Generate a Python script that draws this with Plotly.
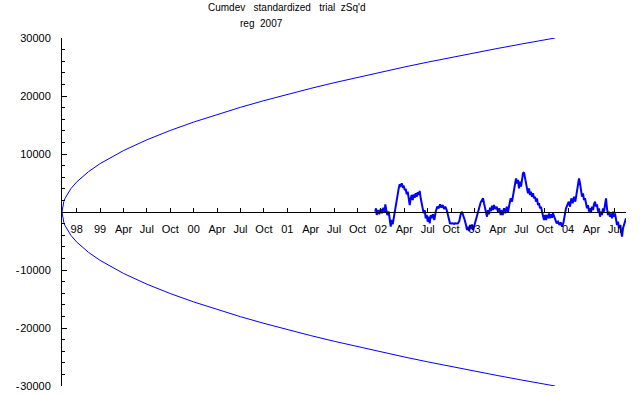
import plotly.graph_objects as go

# x unit: quarter index (0 = first labelled tick "98")
TICK_POS = list(range(24))
TICK_LABELS = ["98", "99", "Apr", "Jul", "Oct", "00", "Apr", "Jul", "Oct",
               "01", "Apr", "Jul", "Oct", "02", "Apr", "Jul", "Oct", "03",
               "Apr", "Jul", "Oct", "04", "Apr", "Jul"]

Y_TICKS = [-30000, -20000, -10000, 0, 10000, 20000, 30000]
Y_TICK_LABELS = ["-\u200a30000", "-\u200a20000", "-\u200a10000", "", "10000", "20000", "30000"]

# envelope (upper half)
ENV_T = [-0.628, -0.6, -0.55, -0.5, -0.4, -0.25, 0, 0.5, 1, 2, 3, 4, 5, 6, 7, 8,
         9, 10, 11, 12, 13, 14, 15, 16, 17, 18, 19, 20, 20.44]
ENV_UP = [0, 1094, 1825, 2338, 3120, 4018, 5179, 6941, 8339, 10595, 12449, 14060,
          15505, 16826, 18051, 19198, 20280, 21307, 22287, 23225, 24127, 24997,
          25837, 26651, 27440, 28208, 28956, 29683, 30000]
ENV_DOWN = [-v for v in ENV_UP]

# cumulative deviation series
DEV_T = [12.761, 12.791, 12.821, 12.876, 12.932, 12.992, 13.047, 13.103, 13.163, 13.188,
         13.231, 13.274, 13.334, 13.389, 13.419, 13.461, 13.504, 13.547, 13.590, 13.632,
         13.675, 13.718, 13.761, 13.803, 13.846, 13.889, 13.932, 13.974, 14.017, 14.060,
         14.103, 14.145, 14.188, 14.231, 14.274, 14.316, 14.359, 14.402, 14.445, 14.487,
         14.530, 14.573, 14.615, 14.658, 14.701, 14.744, 14.786, 14.829, 14.872, 14.915,
         14.957, 15.000, 15.043, 15.085, 15.128, 15.171, 15.226, 15.282,
         15.342, 15.410, 15.470, 15.526, 15.581, 15.641, 15.697, 15.752, 15.812, 15.868,
         15.910, 15.953, 16.009, 16.069, 16.124, 16.180, 16.239, 16.295, 16.351, 16.410,
         16.466, 16.521, 16.581, 16.637, 16.680, 16.722, 16.765, 16.808, 16.851, 16.893,
         16.936, 16.979, 17.034, 17.094, 17.150, 17.205, 17.265, 17.321, 17.364, 17.406,
         17.449, 17.492, 17.534, 17.577, 17.620, 17.663, 17.705, 17.748, 17.791, 17.833,
         17.889, 17.949, 18.004, 18.060, 18.120,
         18.145, 18.205, 18.261, 18.316, 18.376, 18.432, 18.487, 18.547, 18.603, 18.658,
         18.718, 18.774, 18.816, 18.859, 18.902, 18.945, 18.987, 19.030, 19.073, 19.115,
         19.158, 19.201, 19.244, 19.286, 19.329, 19.372, 19.415, 19.457, 19.500, 19.543,
         19.586, 19.628, 19.671, 19.714, 19.757, 19.799, 19.842, 19.885, 19.927, 19.970,
         20.013, 20.056, 20.098, 20.141, 20.184, 20.227, 20.269, 20.312, 20.355, 20.398,
         20.453, 20.513, 20.569, 20.624, 20.684, 20.739, 20.795, 20.855, 20.910,
         20.966, 21.026, 21.081, 21.137, 21.197, 21.252, 21.308, 21.368, 21.423, 21.466,
         21.509, 21.551, 21.594, 21.637, 21.680, 21.722, 21.765, 21.808, 21.850, 21.893,
         21.936, 21.979, 22.021, 22.064, 22.107, 22.150, 22.192, 22.235, 22.278, 22.320,
         22.363, 22.406, 22.449, 22.491, 22.534, 22.577, 22.620, 22.662, 22.705, 22.748,
         22.790, 22.833, 22.876, 22.919, 22.961, 23.004, 23.047, 23.090, 23.132, 23.175,
         23.218, 23.261, 23.304, 23.346, 23.389, 23.432, 23.474]
DEV_V = [50, 640, -520, 340, -400, 520, -230, 750, 60, 1320,
         340, -520, 50, -1670, -2530, -1380, -2130, -1090, 50, 1200,
         2360, 3220, 4080, 4770, 4540, 4940, 4370, 4540, 3790, 3970,
         3050, 3510, 2360, 1210, 2360, 2930, 2070, 3050, 2470, 3220,
         2640, 3390, 2930, 3620, 2360, 1210, 640, -230, 340, -1090,
         -520, -1670, -810, -1950, -520, -1090, -400, -1380,
         50, 920, 640, 1320, 750, 1200, 520, 920, 340, -520,
         -1670, -1950, -2000, -1950, -2050, -1950, -2000, -1950, -1550, -400,
         50, -520, -1380, -2240, -3100, -2530, -3280, -2240, -2930, -2130,
         -3100, -2530, -1670, -520, 340, 1200, 1670, 2070, 2360, 1500,
         750, -230, -810, 340, -400, 750, 170, 1090, 340, 1200,
         520, 920, 50, 640, -520,
         340, -520, 640, -230, 920, 50, 1200, 2360, 1780, 3220,
         4080, 5800, 4940, 5520, 4080, 5230, 4370, 5800, 6670, 6840,
         6090, 4940, 4080, 3220, 4080, 2930, 3510, 2640, 3220, 2360,
         2640, 1780, 2360, 1200, 1500, 640, 920, 50, -810, -1380,
         -520, -1380, -520, -1090, -230, -1090, -400, -980, -230, -810,
         -1380, -1950, -1670, -2240, -1780, -2530, -1950, -520, 640,
         1200, 1780, 920, 2360, 1500, 2640, 1780, 3510, 4650, 5800,
         4940, 3510, 2640, 3220, 2070, 2360, 1200, 640, 1200, 50,
         640, 50, 920, 340, 1320, 1780, 920, 1320, 50, 640,
         -810, 50, -520, 640, 50, 1200, 2360, 640, -520, 50,
         -810, -230, -1090, 50, -810, -230, -1380, -2240, -1670, -2810,
         -2240, -3390, -4250, -2810, -2240, -1670, -1090]

BLUE = "#0000ff"
FONT = "Liberation Sans, Arial, sans-serif"

fig = go.Figure()
fig.add_trace(go.Scatter(x=ENV_T, y=ENV_UP, mode="lines",
                         line=dict(color=BLUE, width=1), hoverinfo="skip"))
fig.add_trace(go.Scatter(x=ENV_T, y=ENV_DOWN, mode="lines",
                         line=dict(color=BLUE, width=1), hoverinfo="skip"))
fig.add_trace(go.Scatter(x=DEV_T, y=DEV_V, mode="lines",
                         line=dict(color=BLUE, width=2), hoverinfo="skip"))

fig.update_layout(
    width=640, height=395,
    margin=dict(l=62, r=14, t=38, b=9, autoexpand=False),
    paper_bgcolor="white", plot_bgcolor="white",
    showlegend=False,
    font=dict(family=FONT, size=11, color="black"),
    xaxis=dict(range=[-0.628, 23.474], showgrid=False, zeroline=False,
               showline=True, linecolor="black", linewidth=1,
               anchor="free", position=0.5, automargin=False,
               ticks="inside", ticklen=4, tickcolor="black",
               tickvals=TICK_POS, ticktext=TICK_LABELS,
               ticklabelstandoff=7,
               tickfont=dict(family=FONT, size=11, color="black")),
    yaxis=dict(range=[-30000, 30000], showgrid=False, zeroline=False,
               showline=True, linecolor="black", linewidth=1,
               automargin=False,
               ticks="inside", ticklen=5, tickcolor="black",
               tickvals=Y_TICKS, ticktext=Y_TICK_LABELS,
               ticklabelstandoff=8,
               minor=dict(ticks="inside", ticklen=3, tickcolor="black",
                          dtick=2000, showgrid=False),
               tickfont=dict(family=FONT, size=11, color="black")),
    annotations=[
        dict(text="Cumdev\u00a0\u00a0 standardized\u00a0\u00a0 trial\u00a0 zSq'd",
             xref="paper", yref="paper", x=0.399, y=1, xanchor="center",
             yanchor="middle", yshift=30.7, showarrow=False,
             font=dict(family=FONT, size=10, color="black")),
        dict(text="reg\u00a0 2007",
             xref="paper", yref="paper", x=0.353, y=1, xanchor="center",
             yanchor="middle", yshift=14.7, showarrow=False,
             font=dict(family=FONT, size=10, color="black")),
    ],
)

fig.write_html("out.html")
